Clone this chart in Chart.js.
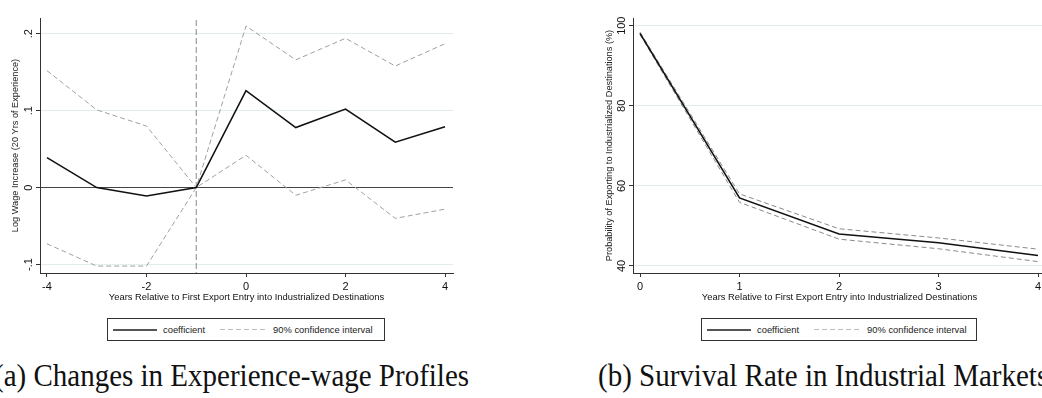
<!DOCTYPE html>
<html>
<head>
<meta charset="utf-8">
<script src="https://cdn.jsdelivr.net/npm/chart.js@4.4.1/dist/chart.umd.min.js"></script>
<style>
  html, body { margin:0; padding:0; background:#fff; }
  body { width:1042px; height:398px; position:relative; overflow:hidden; font-family:'Liberation Sans', Arial, sans-serif; }
  canvas { position:absolute; top:0; }
  .legend { position:absolute; top:318px; height:23px; box-sizing:border-box; border:1px solid #333; background:#fff;
            display:flex; align-items:center; font-size:9.4px; color:#222; white-space:nowrap; z-index:2; }
  .legend .solid { width:44px; height:2px; background:#555; margin:0 6px 0 5px; }
  .legend .dash { width:46px; height:1px; margin:0 7px 0 15px;
                  background:repeating-linear-gradient(to right, #bbb 0 5px, transparent 5px 8px); }
  .caption { position:absolute; top:362px; font-family:'Liberation Serif', 'Times New Roman', serif;
             font-size:29px; line-height:28px; color:#111; white-space:nowrap;
             transform:scaleY(1.1); transform-origin:0 24px; }
</style>
</head>
<body>
<canvas id="wage" width="480" height="320" style="left:0"></canvas>
<canvas id="surv" width="500" height="320" style="left:560px"></canvas>

<div class="legend" style="left:107px;width:278px">
  <span class="solid"></span><span>coefficient</span><span class="dash"></span><span>90% confidence interval</span>
</div>
<div class="legend" style="left:701px;width:276px">
  <span class="solid"></span><span>coefficient</span><span class="dash"></span><span>90% confidence interval</span>
</div>

<div class="caption" style="left:-6px">(a) Changes in Experience-wage Profiles</div>
<div class="caption" style="left:598px">(b) Survival Rate in Industrial Markets</div>

<script>
// (a) wage profile
const wageYears = [-4, -3, -2, -1, 0, 1, 2, 3, 4];
const wageCoef  = [0.039, 0.000, -0.011, 0.000, 0.126, 0.078, 0.102, 0.059, 0.079];
const wageUpper = [0.152, 0.101, 0.080, 0.000, 0.210, 0.166, 0.194, 0.158, 0.187];
const wageLower = [-0.073, -0.102, -0.102, 0.000, 0.042, -0.010, 0.010, -0.040, -0.028];
const wageXTicks = [-4, -2, 0, 2, 4];
const wageYTicks = [-0.1, 0, 0.1, 0.2];
const wageYLabels = ['-.1', '0', '.1', '.2'];

// (b) survival
const survYears = [0, 1, 2, 3, 4];
const survCoef  = [98.1, 57.0, 48.0, 45.8, 42.6];
const survUpper = [98.4, 58.0, 49.3, 47.0, 44.2];
const survLower = [97.8, 55.9, 46.7, 44.3, 41.1];
const survXTicks = [0, 1, 2, 3, 4];
const survYTicks = [40, 60, 80, 100];
const survYLabels = ['40', '60', '80', '100'];

const xTitle = 'Years Relative to First Export Entry into Industrialized Destinations';

Chart.defaults.font.family = "'Liberation Sans', Arial, sans-serif";
Chart.defaults.color = '#111';

const pts = (xs, ys) => xs.map((x, i) => ({ x: x, y: ys[i] }));

// stata-style y labels, rotated
const rotatedYLabels = {
  id: 'rotatedYLabels',
  afterDraw(chart, args, opts) {
    const ys = chart.scales.y, ctx = chart.ctx;
    ctx.save();
    ctx.font = "11px 'Liberation Sans', Arial, sans-serif";
    ctx.fillStyle = '#111';
    ctx.textAlign = 'center';
    ctx.textBaseline = 'alphabetic';
    ys.ticks.forEach((t, i) => {
      ctx.save();
      ctx.translate(chart.chartArea.left - 8, ys.getPixelForValue(t.value));
      ctx.rotate(-Math.PI / 2);
      ctx.fillText(opts.labels[i], 0, 0);
      ctx.restore();
    });
    ctx.restore();
  }
};

// dashed vertical reference line
const xLine = {
  id: 'xLine',
  beforeDatasetsDraw(chart, args, opts) {
    if (opts.value == null) return;
    const x = chart.scales.x.getPixelForValue(opts.value), a = chart.chartArea, ctx = chart.ctx;
    ctx.save();
    ctx.strokeStyle = '#888';
    ctx.lineWidth = 1;
    ctx.setLineDash([6, 3]);
    ctx.beginPath();
    ctx.moveTo(x, a.top + 2);
    ctx.lineTo(x, a.bottom);
    ctx.stroke();
    ctx.restore();
  }
};

function makeChart(id, c) {
  return new Chart(document.getElementById(id), {
    type: 'line',
    data: {
      datasets: [
        { label: 'coefficient', data: pts(c.x, c.coef), borderColor: '#111', borderWidth: 1.6, order: 0 },
        { label: '90% confidence interval', data: pts(c.x, c.upper), borderColor: c.ciColor, borderWidth: 1, borderDash: [5, 3], order: 1 },
        { label: 'lower', data: pts(c.x, c.lower), borderColor: c.ciColor, borderWidth: 1, borderDash: [5, 3], order: 1 }
      ]
    },
    options: {
      responsive: false, animation: false, devicePixelRatio: 1,
      layout: { padding: { left: 0, top: 18, right: c.padRight, bottom: 0 } },
      elements: { point: { radius: 0 }, line: { tension: 0, fill: false } },
      plugins: {
        legend: { display: false },
        tooltip: { enabled: false },
        rotatedYLabels: { labels: c.yLabels },
        xLine: { value: c.refX }
      },
      scales: {
        x: {
          type: 'linear', min: c.xMin, max: c.xMax,
          afterBuildTicks: ax => { ax.ticks = c.xTicks.map(v => ({ value: v })); },
          afterFit: ax => { ax.height = 47; },
          grid: { drawOnChartArea: false, tickLength: 4, tickColor: '#333' },
          border: { color: '#333' },
          ticks: { font: { size: 11 }, color: '#111', padding: 3, maxRotation: 0, callback: v => String(v) },
          title: { display: true, text: xTitle, font: { size: 9.4 }, color: '#111', padding: { top: 0, bottom: 16.5 } }
        },
        y: {
          min: c.yMin, max: c.yMax,
          afterBuildTicks: ax => { ax.ticks = c.yTicks.map(v => ({ value: v })); },
          afterFit: ax => { ax.width = c.yWidth; },
          ticks: { display: false },
          grid: {
            color: ctx => (c.zeroLine && ctx.tick && ctx.tick.value === 0) ? '#444' : '#e4eded',
            tickLength: 4, tickColor: '#333'
          },
          border: { color: '#333' },
          title: { display: true, text: c.yTitle, font: { size: 9.2 }, color: '#222', padding: { top: c.yTitlePad, bottom: 0 } }
        }
      }
    },
    plugins: [rotatedYLabels, xLine]
  });
}

makeChart('wage', {
  x: wageYears, coef: wageCoef, upper: wageUpper, lower: wageLower, ciColor: '#a0a0a0',
  xMin: -4.14, xMax: 4.16, yMin: -0.111, yMax: 0.2204,
  xTicks: wageXTicks, yTicks: wageYTicks, yLabels: wageYLabels,
  yWidth: 40, padRight: 27, yTitlePad: 9.5, zeroLine: true, refX: -1,
  yTitle: 'Log Wage Increase (20 Yrs of Experience)'
});

makeChart('surv', {
  x: survYears, coef: survCoef, upper: survUpper, lower: survLower, ciColor: '#8a8a8a',
  xMin: -0.0704, xMax: 4.08, yMin: 38.25, yMax: 101.92,
  xTicks: survXTicks, yTicks: survYTicks, yLabels: survYLabels,
  yWidth: 73, padRight: 14, yTitlePad: 43.5, zeroLine: false, refX: null,
  yTitle: 'Probability of Exporting to Industrialized Destinations (%)'
});
</script>
</body>
</html>
